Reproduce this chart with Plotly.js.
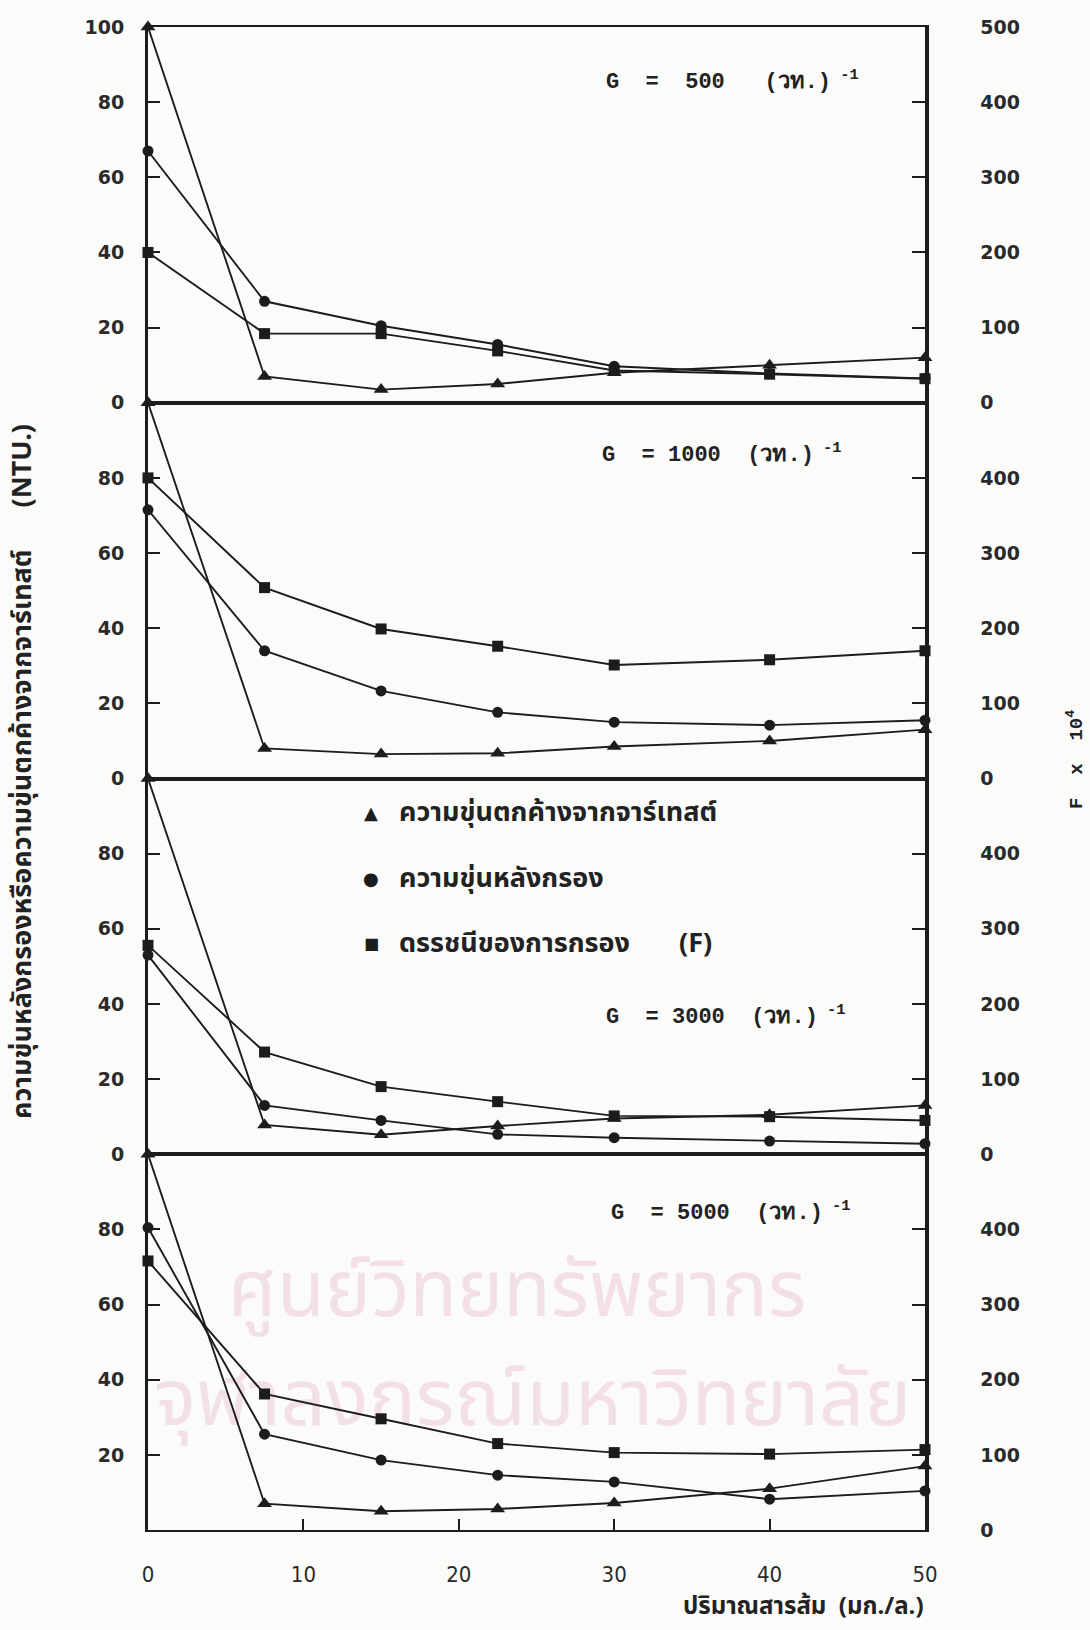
<!DOCTYPE html>
<html><head><meta charset="utf-8">
<script src="https://cdn.plot.ly/plotly-3.0.1.min.js"></script>
<style>
html,body{margin:0;padding:0;background:#fbfbf9;}
#wrap{position:relative;width:1090px;height:1630px;overflow:hidden;}
.wm{position:absolute;color:#f2dfe8;font-family:'Noto Sans Thai','Noto Sans',sans-serif;white-space:nowrap;line-height:1;}
#chart{position:absolute;left:0;top:0;width:1090px;height:1630px;}
</style></head>
<body><div id="wrap">
<div class="wm" style="left:228px;top:1253px;font-size:78px;">ศูนย์วิทยทรัพยากร</div>
<div class="wm" style="left:154px;top:1362px;font-size:79px;">จุฬาลงกรณ์มหาวิทยาลัย</div>
<div id="chart"></div></div>
<script>
// Alum dose (mg/L)
const xDose = [0, 7.5, 15, 22.5, 30, 40, 50];
// Velocity gradient G labels, top to bottom
const gValues = ['500', '1000', '3000', '5000'];
const gStrings = [
  'G\u00a0\u00a0=\u00a0\u00a0500\u00a0\u00a0\u00a0(วท.)',
  'G\u00a0\u00a0=\u00a01000\u00a0\u00a0(วท.)',
  'G\u00a0\u00a0=\u00a03000\u00a0\u00a0(วท.)',
  'G\u00a0\u00a0=\u00a05000\u00a0\u00a0(วท.)'
];
// Residual turbidity after jar test (NTU) – triangles
const settle500  = [100, 7.0, 3.5, 5.0, 8.0, 10.0, 12.0];
const settle1000 = [100, 8.0, 6.5, 6.7, 8.5, 10.0, 13.0];
const settle3000 = [100, 7.8, 5.2, 7.5, 9.5, 10.5, 13.0];
const settle5000 = [100, 7.0, 5.0, 5.6, 7.2, 11.0, 17.0];
// Turbidity after filtration (NTU) – circles
const filt500  = [67, 27.0, 20.5, 15.5, 9.7, 7.8, 6.5];
const filt1000 = [71.5, 34.0, 23.3, 17.6, 15.0, 14.2, 15.5];
const filt3000 = [53, 13.0, 9.0, 5.3, 4.4, 3.5, 2.8];
const filt5000 = [80.5, 25.5, 18.6, 14.6, 12.8, 8.2, 10.4];
// Filterability index F x 10^4 – squares (right axis)
const fIdx500  = [200, 92, 92, 69, 43, 38, 32];
const fIdx1000 = [400, 254, 199, 176, 151, 158, 170];
const fIdx3000 = [278, 136, 90, 70, 51, 50, 45];
const fIdx5000 = [358, 181, 148, 115, 103, 101, 107];

const settleAll = [settle500, settle1000, settle3000, settle5000];
const filtAll = [filt500, filt1000, filt3000, filt5000];
const fAll = [fIdx500, fIdx1000, fIdx3000, fIdx5000];

const legendNames = ['ความขุ่นตกค้างจากจาร์เทสต์', 'ความขุ่นหลังกรอง', 'ดรรชนีของการกรอง\u00a0\u00a0\u00a0\u00a0\u00a0\u00a0\u00a0(F)'];
const legendGlyphs = ['▲', '●', '■'];
const yTitleLeft = 'ความขุ่นหลังกรองหรือความขุ่นตกค้างจากจาร์เทสต์\u00a0\u00a0\u00a0\u00a0\u00a0\u00a0(NTU.)';
const yTitleRight = 'F\u00a0\u00a0x\u00a0\u00a010<sup>4</sup>';
const xTitle = 'ปริมาณสารส้ม\u00a0\u00a0(มก./ล.)';

const ink = '#1c1c1c';
const tickFont = {family: 'DejaVu Sans, Verdana, sans-serif', size: 19, color: '#2a2a2a', weight: 'bold'};
const thaiFont = 'Noto Sans Thai, Loma, Garuda, Noto Sans, sans-serif';

const traces = [];
const layout = {
  width: 1090, height: 1630,
  margin: {l: 148, r: 165, t: 27, b: 100},
  paper_bgcolor: 'rgba(0,0,0,0)', plot_bgcolor: 'rgba(0,0,0,0)',
  showlegend: false,
  annotations: []
};

for (let k = 0; k < 4; k++) {
  const xs = k === 0 ? '' : String(k + 1);
  const yl = k === 0 ? '' : String(2 * k + 1);
  const yr = String(2 * k + 2);
  const common = {x: xDose, xaxis: 'x' + xs, mode: 'lines+markers', cliponaxis: false,
                  line: {color: ink, width: 1.9}, hoverinfo: 'x+y'};
  traces.push(Object.assign({}, common, {y: settleAll[k], yaxis: 'y' + yl, name: legendNames[0],
    marker: {symbol: 'triangle-up', size: 13, color: ink}}));
  traces.push(Object.assign({}, common, {y: filtAll[k], yaxis: 'y' + yl, name: legendNames[1],
    marker: {symbol: 'circle', size: 11, color: ink}}));
  traces.push(Object.assign({}, common, {y: fAll[k], yaxis: 'y' + yr, name: legendNames[2],
    marker: {symbol: 'square', size: 11, color: ink}}));

  const d0 = 1 - (k + 1) * 0.25, d1 = 1 - k * 0.25;
  const last = k === 3;
  layout['xaxis' + xs] = {
    domain: [0, 1], anchor: 'y' + yl, range: [0, 50], matches: k === 0 ? undefined : 'x',
    showline: true, linewidth: 2, linecolor: ink, mirror: true,
    showgrid: false, zeroline: false,
    ticks: last ? 'inside' : '', ticklen: 11, tickwidth: 2, tickcolor: ink,
    tickvals: [0, 10, 20, 30, 40, 50], ticktext: ['0', '10', '20', '30', '40', '50'],
    showticklabels: last, ticklabelstandoff: 24,
    tickfont: {family: 'Liberation Sans Narrow, DejaVu Sans Condensed, Roboto Condensed, sans-serif', size: 22, color: '#2a2a2a'}
  };
  const lv = k === 0 ? [0, 20, 40, 60, 80, 100] : (last ? [20, 40, 60, 80] : [0, 20, 40, 60, 80]);
  layout['yaxis' + yl] = {
    domain: [d0, d1], anchor: 'x' + xs, range: [0, 100],
    showline: true, linewidth: 3, linecolor: ink,
    showgrid: false, zeroline: false,
    ticks: 'inside', ticklen: 12, tickwidth: 2, tickcolor: ink,
    tickvals: lv, ticktext: lv.map(String), tickfont: tickFont, ticklabelstandoff: 17
  };
  const rv = k === 0 ? [0, 100, 200, 300, 400, 500] : [0, 100, 200, 300, 400];
  layout['yaxis' + yr] = {
    domain: [d0, d1], anchor: 'x' + xs, overlaying: 'y' + yl, side: 'right', range: [0, 500],
    showline: true, linewidth: 3.5, linecolor: ink,
    showgrid: false, zeroline: false,
    ticks: 'inside', ticklen: 13, tickwidth: 2, tickcolor: ink,
    tickvals: rv, ticktext: rv.map(String), tickfont: tickFont, ticklabelstandoff: 48
  };
}

// G annotations (pixel positions converted to paper coords)
const plotL = 148, plotW = 777, plotB = 1530, plotH = 1503;
const px = (x) => (x - plotL) / plotW;
const py = (y) => (plotB - y) / plotH;
const gPos = [[604, 81], [600, 454], [604, 1015], [609, 1211]];
for (let k = 0; k < 4; k++) {
  layout.annotations.push({
    xref: 'paper', yref: 'paper', x: px(gPos[k][0]), y: py(gPos[k][1]), xanchor: 'left', yanchor: 'middle',
    showarrow: false, text: gStrings[k] + '<sup>\u00a0-1</sup>',
    font: {family: 'Liberation Mono, DejaVu Sans Mono, monospace', size: 22, color: '#222', weight: 'bold'}
  });
}
// legend (inside third panel)
const legY = [812, 878, 943];
for (let i = 0; i < 3; i++) {
  layout.annotations.push({xref: 'paper', yref: 'paper', x: px(371), y: py(legY[i]), xanchor: 'center', yanchor: 'middle',
    showarrow: false, text: legendGlyphs[i], font: {family: 'DejaVu Sans', size: i === 2 ? 16 : 18, color: ink}});
  layout.annotations.push({xref: 'paper', yref: 'paper', x: px(397), y: py(legY[i]), xanchor: 'left', yanchor: 'middle',
    showarrow: false, text: legendNames[i], font: {family: thaiFont, size: 27, color: '#222', weight: 'bold'}});
}
// axis titles
layout.annotations.push({xref: 'paper', yref: 'paper', x: px(22), y: py(772), xanchor: 'center', yanchor: 'middle',
  textangle: -90, showarrow: false, text: yTitleLeft, font: {family: thaiFont, size: 27, color: '#222', weight: 'bold'}});
layout.annotations.push({xref: 'paper', yref: 'paper', x: px(1075), y: py(760), xanchor: 'center', yanchor: 'middle',
  textangle: -90, showarrow: false, text: yTitleRight, font: {family: 'Liberation Mono, DejaVu Sans Mono, monospace', size: 19, color: '#222', weight: 'bold'}});
layout.annotations.push({xref: 'paper', yref: 'paper', x: px(926), y: py(1607), xanchor: 'right', yanchor: 'middle',
  showarrow: false, text: xTitle, font: {family: thaiFont, size: 24, color: '#222', weight: 'bold'}});

Plotly.newPlot('chart', traces, layout, {staticPlot: true});
</script>
</body></html>
